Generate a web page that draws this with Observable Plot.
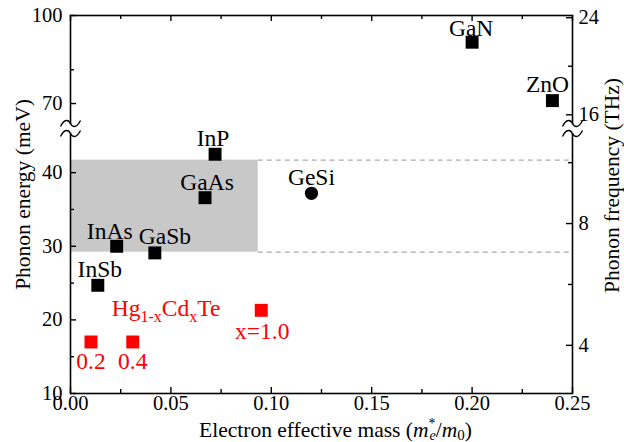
<!DOCTYPE html>
<html><head><meta charset="utf-8">
<script src="https://cdn.jsdelivr.net/npm/d3@7"></script>
<script src="https://cdn.jsdelivr.net/npm/@observablehq/plot@0.6"></script>
<style>html,body{margin:0;padding:0;background:#fff;} svg{display:block}</style>
</head><body><div id="chart"></div>
<script>
// ---- data ----
const materials = ["InSb", "InAs", "GaSb", "GaAs", "InP", "GaN", "ZnO"];
const materialMass = [0.0136, 0.023, 0.042, 0.067, 0.072, 0.200, 0.240];
const materialEnergy = [24.7, 30.0, 29.1, 36.6, 42.5, 90.9, 71.0];

const alloyNames = ["GeSi"];
const alloyMass = [0.120];
const alloyEnergy = [37.2];

const hgcdteLabels = ["0.2", "0.4", "x=1.0"];
const hgcdteMass = [0.0102, 0.031, 0.095];
const hgcdteEnergy = [17.0, 17.0, 21.3];

const shadeMass = [0, 0.0935];
const shadeEnergy = [29.2, 41.7];

const xMajor = [0, 0.05, 0.10, 0.15, 0.20, 0.25];
const xMinor = [0.025, 0.075, 0.125, 0.175, 0.225];
const yMajor = [10, 20, 30, 40, 70, 100];
const yMinor = [15, 25, 35, 81.5];
const thzMajor = [4, 8, 16, 24];
const thzMinor = [6, 10, 20];
const MEV_PER_THZ = 4.1357;
const yBreak = [46, 61.5];

// ---- build ----
const pts = materials.map((n, i) => ({name: n, m: materialMass[i], e: materialEnergy[i]}));
const alloy = alloyNames.map((n, i) => ({name: n, m: alloyMass[i], e: alloyEnergy[i]}));
const hg = hgcdteLabels.map((n, i) => ({name: n, m: hgcdteMass[i], e: hgcdteEnergy[i]}));

const labelOffset = {
  InSb: [2, -16], InAs: [-7, -15], GaSb: [10, -16], GaAs: [2, -15], InP: [-2, -16],
  GaN: [-1, -14], ZnO: [-5, -16], GeSi: [0, -16],
  "0.2": [0, 19], "0.4": [0, 19], "x=1.0": [1, 21]
};

const breakSymbol = {
  draw(ctx) {
    for (const yo of [-5, 5]) {
      ctx.moveTo(-10, yo + 3);
      ctx.bezierCurveTo(-6, yo - 5, -2, yo - 4, 0, yo);
      ctx.bezierCurveTo(2, yo + 4, 6, yo + 5, 10, yo - 3);
    }
  }
};

const FONT = "'Liberation Serif', 'Times New Roman', serif";
const black = "#000";
const red = "#ff0000";
const LABEL_SIZE = 23.5;
const TICK_SIZE = 20.5;
const TITLE_SIZE = 21.5;

const labelMarks = [];
for (const d of [...pts, ...alloy]) {
  const [dx, dy] = labelOffset[d.name];
  labelMarks.push(Plot.text([d], {x: "m", y: "e", text: "name", dx, dy, fontSize: LABEL_SIZE, fill: black}));
}
for (const d of hg) {
  const [dx, dy] = labelOffset[d.name];
  labelMarks.push(Plot.text([d], {x: "m", y: "e", text: "name", dx, dy, fontSize: LABEL_SIZE, fill: red}));
}

const majorLen = 6, minorLen = 4;
const pxX = 0.25 / 502;    // x data per pixel
const pxYlow = 1 / 7.37;   // meV per pixel (lower segment)
const pxYhigh = 1 / 2.933; // meV per pixel (upper segment)

const X_TITLE = "Electron effective mass (m*e/m0)";
const HG_TITLE = "Hg1-xCdxTe";

const plot = Plot.plot({
  width: 624,
  height: 442,
  marginLeft: 70,
  marginRight: 52,
  marginTop: 15,
  marginBottom: 49,
  style: {fontFamily: FONT, fontSize: TICK_SIZE + "px", background: "#fff", color: "#000", overflow: "visible"},
  x: {type: "linear", domain: [0, 0.25]},
  y: {type: "linear", domain: [10, yBreak[0], yBreak[1], 100], range: [393, 128, 128, 15]},
  marks: [
    Plot.rect([0], {x1: () => shadeMass[0], x2: () => shadeMass[1], y1: () => shadeEnergy[0], y2: () => shadeEnergy[1], fill: "#c8c8c8"}),
    Plot.ruleY(shadeEnergy, {y: d => d, x1: () => shadeMass[1], x2: () => 0.25, stroke: "#aaa", strokeWidth: 1.2, strokeDasharray: "5,4"}),
    Plot.frame({stroke: black, strokeWidth: 1.6}),
    // inward ticks
    Plot.ruleY(yMajor, {y: d => d, x1: () => 0, x2: () => majorLen * pxX, stroke: black, strokeWidth: 1.4}),
    Plot.ruleY(yMinor, {y: d => d, x1: () => 0, x2: () => minorLen * pxX, stroke: black, strokeWidth: 1.4}),
    Plot.ruleY(thzMajor, {y: d => d * MEV_PER_THZ, x1: () => 0.25, x2: () => 0.25 - majorLen * pxX, stroke: black, strokeWidth: 1.4}),
    Plot.ruleY(thzMinor, {y: d => d * MEV_PER_THZ, x1: () => 0.25, x2: () => 0.25 - minorLen * pxX, stroke: black, strokeWidth: 1.4}),
    Plot.ruleX(xMajor, {x: d => d, y1: () => 10, y2: () => 10 + majorLen * pxYlow, stroke: black, strokeWidth: 1.4}),
    Plot.ruleX(xMinor, {x: d => d, y1: () => 10, y2: () => 10 + minorLen * pxYlow, stroke: black, strokeWidth: 1.4}),
    Plot.ruleX(xMajor, {x: d => d, y1: () => 100, y2: () => 100 - majorLen * pxYhigh, stroke: black, strokeWidth: 1.4}),
    Plot.ruleX(xMinor, {x: d => d, y1: () => 100, y2: () => 100 - minorLen * pxYhigh, stroke: black, strokeWidth: 1.4}),
    // axis labels
    Plot.axisX({ticks: xMajor, tickSize: 0, tickPadding: 2, tickFormat: d3.format(".2f"), label: null, fontSize: TICK_SIZE}),
    Plot.axisY({anchor: "left", ticks: yMajor, tickSize: 0, tickPadding: 8, tickFormat: d => String(d), label: null, fontSize: TICK_SIZE}),
    Plot.axisY({anchor: "right", ticks: thzMajor.map(t => t * MEV_PER_THZ), tickSize: 0, tickPadding: 6, tickFormat: d => String(Math.round(d / MEV_PER_THZ)), label: null, fontSize: TICK_SIZE}),
    // axis breaks
    Plot.ruleX([0, 0.25], {x: d => d, y1: () => 45.3, y2: () => 62.8, stroke: "#fff", strokeWidth: 5}),
    Plot.dot([0, 0.25], {x: d => d, y: () => yBreak[0], symbol: breakSymbol, r: 6, fill: "none", stroke: black, strokeWidth: 1.4}),
    // data
    Plot.dot(pts, {x: "m", y: "e", symbol: "square", r: 7.3, fill: black, stroke: "none"}),
    Plot.dot(alloy, {x: "m", y: "e", symbol: "circle", r: 6.6, fill: black, stroke: "none"}),
    Plot.dot(hg, {x: "m", y: "e", symbol: "square", r: 7.3, fill: red, stroke: "none"}),
    ...labelMarks,
    Plot.text([HG_TITLE], {x: () => 0.0205, y: () => 21.6, text: d => d, textAnchor: "start", fontSize: LABEL_SIZE, fill: red}),
    // axis titles
    Plot.text(["Phonon energy (meV)"], {frameAnchor: "left", textAnchor: "middle", lineAnchor: "middle", rotate: -90, dx: -47, dy: -10, fontSize: TITLE_SIZE, fill: black}),
    Plot.text(["Phonon frequency (THz)"], {frameAnchor: "right", textAnchor: "middle", lineAnchor: "middle", rotate: -90, dx: 40, dy: -19, fontSize: TITLE_SIZE, fill: black}),
    Plot.text([X_TITLE], {frameAnchor: "bottom", textAnchor: "middle", lineAnchor: "middle", dx: 14, dy: 37, fontSize: TITLE_SIZE, fill: black})
  ]
});

document.getElementById("chart").appendChild(plot);

// rich text (sub/superscripts)
const svg = d3.select(plot);
svg.selectAll("text").filter(function () { return this.textContent === X_TITLE; }).each(function () {
  const t = d3.select(this);
  t.text("");
  t.append("tspan").text("Electron effective mass (");
  t.append("tspan").attr("font-style", "italic").text("m");
  t.append("tspan").attr("font-size", "14px").attr("dy", "-9").text("*");
  t.append("tspan").attr("font-size", "14px").attr("font-style", "italic").attr("dx", "-6").attr("dy", "12").text("e");
  t.append("tspan").attr("dy", "-3").text("/");
  t.append("tspan").attr("font-style", "italic").text("m");
  t.append("tspan").attr("font-size", "15px").attr("dy", "3").text("0");
  t.append("tspan").attr("dy", "-3").text(")");
});
svg.selectAll("text").filter(function () { return this.textContent === HG_TITLE; }).each(function () {
  const t = d3.select(this);
  t.text("");
  t.append("tspan").text("Hg");
  t.append("tspan").attr("font-size", "16px").attr("dy", "6").text("1-x");
  t.append("tspan").attr("dy", "-6").text("Cd");
  t.append("tspan").attr("font-size", "16px").attr("dy", "6").text("x");
  t.append("tspan").attr("dy", "-6").text("Te");
});
</script>
</body></html>
